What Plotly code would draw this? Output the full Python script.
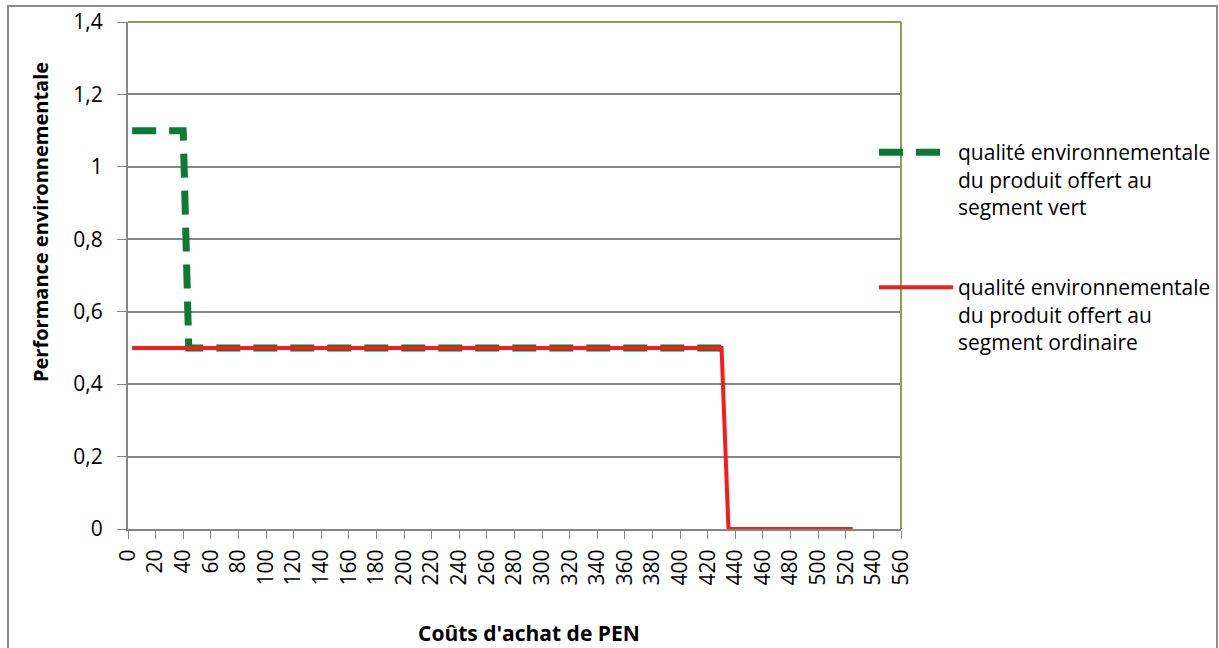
import plotly.graph_objects as go

# Purchase cost of PEN (x) and environmental quality (y) for each segment
green_x = [3, 40, 44, 430]
green_y = [1.1, 1.1, 0.5, 0.5]
ordinary_x = [3, 430, 435, 525]
ordinary_y = [0.5, 0.5, 0.0, 0.0]

x_ticks = list(range(0, 561, 20))
y_ticks = [0, 0.2, 0.4, 0.6, 0.8, 1.0, 1.2, 1.4]

green_name = "qualité environnementale<br>du produit offert au<br>segment vert"
ordinary_name = "qualité environnementale<br>du produit offert au<br>segment ordinaire"

W, H = 1219, 648
L, R, T, B = 128, 318, 22, 119
pw, ph = W - L - R, H - T - B


def px_x(p):
    return (p - L) / pw


def px_y(p):
    return (H - B - p) / ph


FONT = "Open Sans"

fig = go.Figure()
fig.add_trace(go.Scatter(
    x=green_x, y=green_y, mode="lines", name=green_name,
    line=dict(color="#0A7A35", width=7, dash="24px,13px"),
    legend="legend",
))
fig.add_trace(go.Scatter(
    x=ordinary_x, y=ordinary_y, mode="lines", name=ordinary_name,
    line=dict(color="#F51C1C", width=4),
    legend="legend2",
))

axis_color = "#868686"
fig.update_xaxes(
    range=[0, 560], tickvals=x_ticks, ticktext=[str(v) for v in x_ticks],
    tickangle=-90, ticks="outside", ticklen=8, tickcolor=axis_color,
    showline=True, linecolor=axis_color, linewidth=2, showgrid=False,
    zeroline=False, ticklabelstandoff=2,
    tickfont=dict(family=FONT, size=21, color="#000"),
)
fig.update_yaxes(
    range=[0, 1.4], tickvals=y_ticks, ticks="outside", ticklen=9,
    tickcolor=axis_color, showline=True, linecolor=axis_color, linewidth=2,
    showgrid=True, gridcolor=axis_color, gridwidth=1.5, zeroline=False,
    ticklabelstandoff=10,
    tickfont=dict(family=FONT, size=21, color="#000"),
)

legend_common = dict(
    xanchor="left", yanchor="top", bgcolor="rgba(0,0,0,0)",
    font=dict(family=FONT, size=21, color="#000"),
    itemwidth=74, valign="top", tracegroupgap=0,
)

fig.update_layout(
    width=W, height=H,
    margin=dict(l=L, r=R, t=T, b=B, autoexpand=False),
    paper_bgcolor="white", plot_bgcolor="white",
    separators=", ",
    showlegend=True,
    legend=dict(x=px_x(874), y=px_y(132), **legend_common),
    legend2=dict(x=px_x(874), y=px_y(267), **legend_common),
    shapes=[
        # outer chart frame
        dict(type="rect", xref="paper", yref="paper",
             x0=px_x(8), x1=px_x(1217), y0=px_y(660), y1=px_y(6),
             line=dict(color="#8C8C8C", width=2), layer="below"),
        # plot area top and right edges
        dict(type="line", xref="paper", yref="paper", x0=0, x1=1, y0=1, y1=1,
             line=dict(color="#8A9F4F", width=2)),
        dict(type="line", xref="paper", yref="paper", x0=1, x1=1, y0=0, y1=1,
             line=dict(color="#8A9F4F", width=2)),
    ],
    annotations=[
        dict(text="<b>Coûts d'achat de PEN</b>", xref="paper", yref="paper",
             x=px_x(529), y=px_y(633), xanchor="center", yanchor="middle",
             showarrow=False, font=dict(family=FONT, size=21, color="#000")),
        dict(text="<b>Performance environnementale</b>", xref="paper", yref="paper",
             x=px_x(40), y=px_y(222), xanchor="center", yanchor="middle",
             textangle=-90, showarrow=False,
             font=dict(family=FONT, size=20, color="#000")),
    ],
)

fig.write_html("out.html")
